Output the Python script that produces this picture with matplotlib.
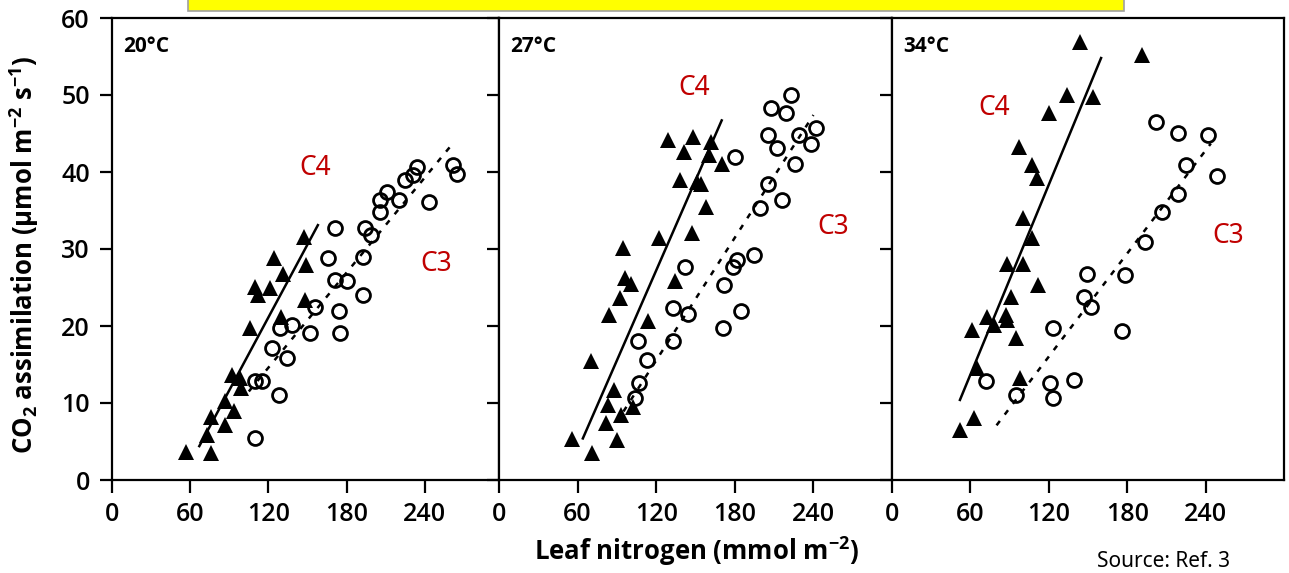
import matplotlib
matplotlib.use("Agg")
import matplotlib.pyplot as plt
from matplotlib.patches import Rectangle

plt.rcParams['font.family'] = ['Open Sans', 'DejaVu Sans']
plt.rcParams['mathtext.fontset'] = 'custom'
plt.rcParams['mathtext.rm'] = 'Open Sans:bold'
plt.rcParams['mathtext.it'] = 'Open Sans:bold'
plt.rcParams['mathtext.bf'] = 'Open Sans:bold'

W, H = 1289, 573

temps = ['20°C', '27°C', '34°C']
x_ticks = [0, 60, 120, 180, 240]
y_ticks = [0, 10, 20, 30, 40, 50, 60]

# C4 (filled triangles)
c4_x = [
    [57, 76, 73, 76, 87, 87, 94, 92, 99, 98, 106, 110, 112, 121, 124, 131, 130, 147, 149, 148],
    [56, 71, 90, 82, 83, 88, 93, 102, 70, 84, 92, 96, 101, 95, 114, 122, 134, 147, 158, 138,
     151, 154, 141, 129, 148, 162, 160, 170],
    [52, 63, 65, 61, 73, 78, 87, 88, 95, 91, 88, 100, 98, 107, 100, 112, 107, 111, 97, 120,
     134, 154, 144, 191],
]
c4_y = [
    [3.7, 3.5, 5.8, 8.2, 7.1, 10.2, 8.9, 13.6, 11.9, 13.2, 19.7, 25.1, 24.0, 24.9, 28.8, 26.8,
     21.2, 31.6, 27.9, 23.4],
    [5.3, 3.5, 5.2, 7.4, 9.7, 11.7, 8.4, 9.5, 15.4, 21.4, 23.6, 26.2, 25.5, 30.1, 20.6, 31.4,
     25.8, 32.1, 35.5, 39.0, 38.7, 38.5, 42.6, 44.2, 44.6, 43.9, 42.2, 41.1],
    [6.5, 8.0, 14.5, 19.5, 21.2, 20.1, 21.4, 20.8, 18.4, 23.8, 28.1, 28.1, 13.2, 31.4, 34.0,
     25.3, 40.9, 39.2, 43.3, 47.6, 50.0, 49.8, 56.9, 55.2],
]

# C3 (open circles)
c3_x = [
    [110, 110, 115, 128, 123, 134, 129, 138, 152, 156, 171, 166, 171, 180, 174, 175, 193, 193,
     194, 199, 206, 206, 211, 220, 225, 231, 234, 243, 262, 265],
    [104, 107, 113, 106, 133, 133, 144, 142, 171, 185, 172, 179, 182, 195, 180, 199, 205, 216,
     205, 212, 208, 219, 223, 226, 229, 238, 242],
    [72, 95, 121, 123, 139, 123, 147, 152, 149, 176, 178, 194, 207, 219, 225, 202, 219, 242, 249],
]
c3_y = [
    [5.4, 12.8, 12.8, 11.0, 17.1, 15.8, 19.7, 20.1, 19.1, 22.5, 32.7, 28.8, 26.0, 25.8, 21.9,
     19.1, 24.0, 29.0, 32.7, 31.8, 34.8, 36.4, 37.4, 36.4, 39.0, 39.6, 40.7, 36.1, 40.9, 39.8],
    [10.6, 12.6, 15.6, 18.1, 18.0, 22.3, 21.6, 27.7, 19.7, 21.9, 25.3, 27.7, 28.6, 29.2, 42.0,
     35.3, 38.5, 36.4, 44.8, 43.1, 48.3, 47.6, 50.0, 41.1, 44.8, 43.7, 45.7],
    [12.8, 11.0, 12.6, 10.6, 13.0, 19.7, 23.8, 22.5, 26.8, 19.3, 26.6, 30.9, 34.8, 37.2, 40.9,
     46.5, 45.1, 44.8, 39.5],
]

# regression line end points
c4_fit_x = [[67, 158], [64, 170], [52, 160]]
c4_fit_y = [[4.4, 33.1], [5.4, 46.7], [10.4, 54.8]]
c3_fit_x = [[105, 262], [95, 240], [80, 244]]
c3_fit_y = [[11.5, 43.8], [8.9, 47.4], [7.1, 43.7]]

# label positions for C4 / C3 in each panel
c4_lab = [(156, 40.5), (149, 50.9), (78, 48.3)]
c3_lab = [(249, 28.1), (255, 32.9), (257, 31.7)]

panel_px = [(112, 499), (499, 892), (892, 1284)]
x_max = [297, 300, 300]

fig = plt.figure(figsize=(W / 100, H / 100), dpi=100)
top, bottom = 18, 480

red = '#C00000'
for i in range(3):
    l, r = panel_px[i]
    ax = fig.add_axes([l / W, 1 - bottom / H, (r - l) / W, (bottom - top) / H])
    ax.set_xlim(0, x_max[i])
    ax.set_ylim(0, 60)
    for s in ax.spines.values():
        s.set_linewidth(1.6)
    ax.plot(c4_fit_x[i], c4_fit_y[i], color='black', lw=1.8)
    ax.plot(c3_fit_x[i], c3_fit_y[i], color='black', lw=1.8, dashes=(2.2, 3.2))
    ax.plot(c4_x[i], c4_y[i], linestyle='none', marker='^', ms=11,
            color='black', markeredgewidth=0)
    ax.plot(c3_x[i], c3_y[i], linestyle='none', marker='o', ms=10,
            markerfacecolor='none', markeredgecolor='black', markeredgewidth=2)
    ax.text(8.5, 56.3, temps[i], fontsize=15, fontweight='bold', va='center')
    ax.text(c4_lab[i][0], c4_lab[i][1], 'C4', color=red, fontsize=19,
            family=['Noto Sans', 'DejaVu Sans'], ha='center', va='center')
    ax.text(c3_lab[i][0], c3_lab[i][1], 'C3', color=red, fontsize=19,
            family=['Noto Sans', 'DejaVu Sans'], ha='center', va='center')
    ax.set_xticks(x_ticks)
    ax.set_xticklabels([str(t) for t in x_ticks], fontsize=18, fontweight='semibold')
    ax.set_yticks(y_ticks)
    ax.tick_params(axis='both', direction='out', length=9, width=1.6, pad=7)
    if i == 0:
        ax.set_yticklabels([str(t) for t in y_ticks], fontsize=18, fontweight='semibold')
    else:
        ax.set_yticklabels([])

fig.text(24 / W, 1 - 255 / H, 'CO$_2$ assimilation (μmol m$^{-2}$ s$^{-1}$)', rotation=90,
         fontsize=18.5, fontweight='bold', ha='center', va='center')
fig.text(697 / W, 1 - 551 / H, 'Leaf nitrogen (mmol m$^{-2}$)', fontsize=18.5,
         fontweight='bold', ha='center', va='center')
fig.text(1097 / W, 1 - 572 / H, 'Source: Ref. 3', fontsize=15,
         family=['Noto Sans', 'DejaVu Sans'], ha='left', va='bottom')

fig.patches.append(Rectangle((188 / W, 1 - 11 / H), (1124 - 188) / W, 14 / H,
                             transform=fig.transFigure, facecolor='#FFFF00',
                             edgecolor='#A0A0A0', lw=1.2))

fig.savefig('out.png', dpi=100)
